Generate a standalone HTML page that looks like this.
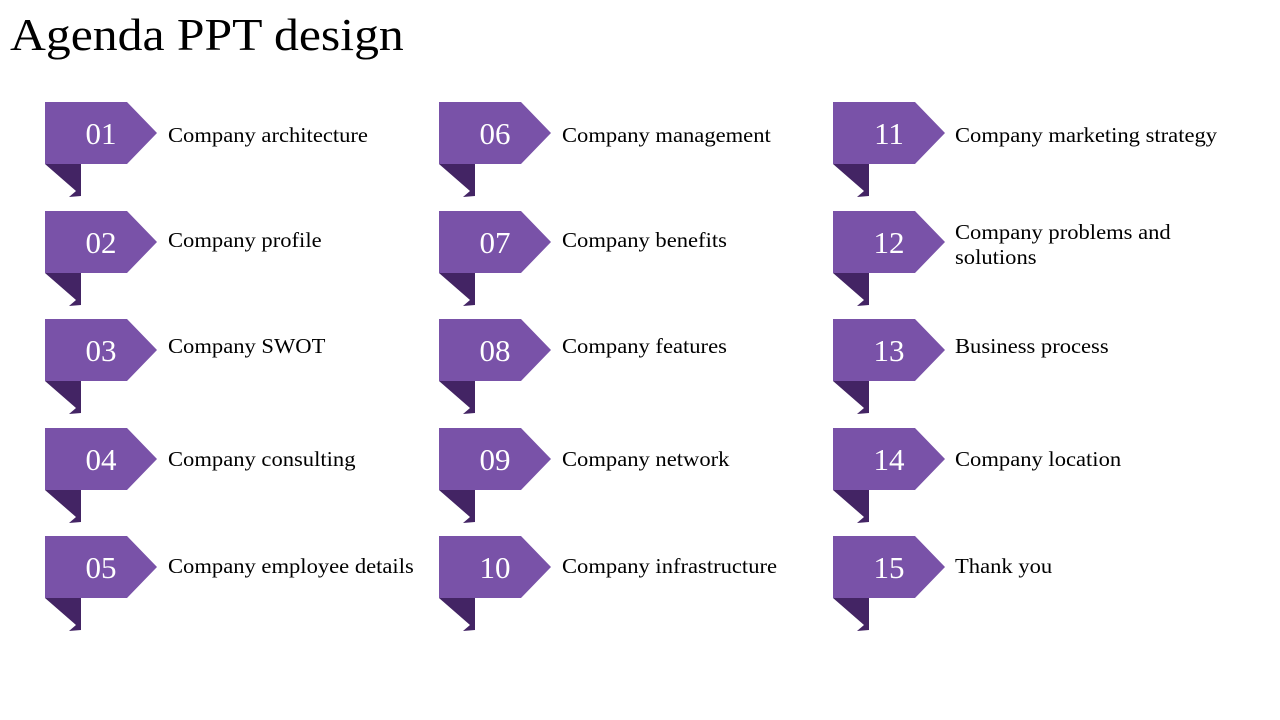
<!DOCTYPE html>
<html><head><meta charset="utf-8"><style>
body{margin:0;width:1280px;height:720px;background:#fff;position:relative;overflow:hidden;font-family:"Liberation Serif",serif}
.t{position:absolute;left:10px;top:8px;font-size:46px;color:#000;white-space:nowrap;transform:scaleX(1.08);transform-origin:0 0}
.n{position:absolute;width:112px;text-align:center;color:#fff;font-size:31px;line-height:34px}
.l{position:absolute;font-size:21px;color:#000;line-height:25px;white-space:nowrap;transform:scaleX(1.075);transform-origin:0 0}
</style></head><body>
<div class="t">Agenda PPT design</div>
<svg width="1280" height="720" style="position:absolute;left:0;top:0">
<defs><g id="s">
<polygon points="0,62 36,62 36,94 24,95 31,89" fill="#432464"/>
<polygon points="0,0 82,0 112,31 82,62 0,62" fill="#7952A8"/>
</g></defs>
<use href="#s" x="45" y="102"/><use href="#s" x="45" y="211"/><use href="#s" x="45" y="319"/><use href="#s" x="45" y="428"/><use href="#s" x="45" y="536"/>
<use href="#s" x="439" y="102"/><use href="#s" x="439" y="211"/><use href="#s" x="439" y="319"/><use href="#s" x="439" y="428"/><use href="#s" x="439" y="536"/>
<use href="#s" x="833" y="102"/><use href="#s" x="833" y="211"/><use href="#s" x="833" y="319"/><use href="#s" x="833" y="428"/><use href="#s" x="833" y="536"/>
</svg>
<div class="n" style="left:45px;top:117px">01</div>
<div class="n" style="left:45px;top:226px">02</div>
<div class="n" style="left:45px;top:334px">03</div>
<div class="n" style="left:45px;top:443px">04</div>
<div class="n" style="left:45px;top:551px">05</div>
<div class="n" style="left:439px;top:117px">06</div>
<div class="n" style="left:439px;top:226px">07</div>
<div class="n" style="left:439px;top:334px">08</div>
<div class="n" style="left:439px;top:443px">09</div>
<div class="n" style="left:439px;top:551px">10</div>
<div class="n" style="left:833px;top:117px">11</div>
<div class="n" style="left:833px;top:226px">12</div>
<div class="n" style="left:833px;top:334px">13</div>
<div class="n" style="left:833px;top:443px">14</div>
<div class="n" style="left:833px;top:551px">15</div>
<div class="l" style="left:168px;top:123px">Company architecture</div>
<div class="l" style="left:168px;top:228px">Company profile</div>
<div class="l" style="left:168px;top:334px">Company SWOT</div>
<div class="l" style="left:168px;top:447px">Company consulting</div>
<div class="l" style="left:168px;top:554px">Company employee details</div>
<div class="l" style="left:562px;top:123px">Company management</div>
<div class="l" style="left:562px;top:228px">Company benefits</div>
<div class="l" style="left:562px;top:334px">Company features</div>
<div class="l" style="left:562px;top:447px">Company network</div>
<div class="l" style="left:562px;top:554px">Company infrastructure</div>
<div class="l" style="left:955px;top:123px">Company marketing strategy</div>
<div class="l" style="left:955px;top:220px">Company problems and<br>solutions</div>
<div class="l" style="left:955px;top:334px">Business process</div>
<div class="l" style="left:955px;top:447px">Company location</div>
<div class="l" style="left:955px;top:554px">Thank you</div>
</body></html>
